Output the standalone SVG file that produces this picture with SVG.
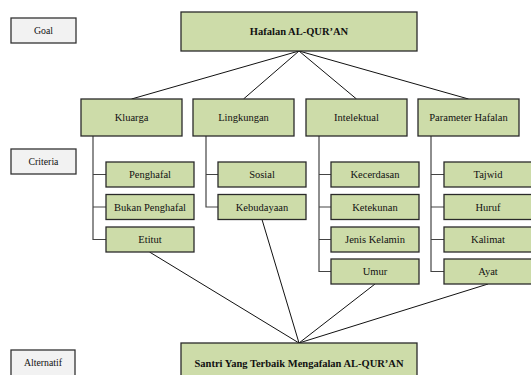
<svg xmlns="http://www.w3.org/2000/svg" width="531" height="375" viewBox="0 0 531 375">
<style>
.lbl{fill:#f2f2f2;stroke:#333;stroke-width:1.3}
.n{fill:#cddca9;stroke:#2a2a2a;stroke-width:1.3}
text{font-family:"Liberation Serif","Times New Roman",serif;font-size:10.5px;fill:#111;text-anchor:middle}
.b{font-weight:bold}
.s{font-size:9.8px}
.c line,.c path{stroke:#111;stroke-width:1;fill:none}
.t path{stroke:#444;stroke-width:1.2;fill:none}
</style>
<rect width="531" height="375" fill="#fff"/>
<g id="label-goal"><rect class="lbl" x="11" y="18" width="65" height="25"/><text class="s" x="43.5" y="34">Goal</text></g>
<g id="label-criteria"><rect class="lbl" x="11" y="149" width="65" height="25"/><text class="s" x="43.5" y="165">Criteria</text></g>
<g id="label-alternatif"><rect class="lbl" x="11" y="350" width="64" height="26"/><text class="s" x="43" y="366">Alternatif</text></g>
<g class="c" id="connectors">
<line x1="299" y1="51" x2="131.5" y2="99"/>
<line x1="299" y1="51" x2="243.5" y2="99"/>
<line x1="299" y1="51" x2="356.5" y2="99"/>
<line x1="299" y1="51" x2="468.5" y2="99"/>
<line x1="149.5" y1="252" x2="299" y2="343"/>
<line x1="262" y1="219.5" x2="299" y2="343"/>
<line x1="375" y1="284" x2="299" y2="343"/>
<line x1="488" y1="284" x2="299" y2="343"/>
</g>
<g class="t" id="tree-connectors">
<path d="M93 136V239.5H106M93 174.5H106M93 207H106"/>
<path d="M206 136V207H218M206 174.5H218"/>
<path d="M319 136V271.5H331M319 174.5H331M319 207H331M319 239.5H331"/>
<path d="M431 136V271.5H444M431 174.5H444M431 207H444M431 239.5H444"/>
</g>
<g id="goal"><rect class="n" x="181" y="12" width="236" height="39"/><text class="b" x="299" y="35">Hafalan AL-QUR’AN</text></g>
<g id="kluarga"><rect class="n" x="81" y="99" width="101" height="37"/><text x="131.5" y="121">Kluarga</text></g>
<g id="lingkungan"><rect class="n" x="193" y="99" width="101" height="37"/><text x="243.5" y="121">Lingkungan</text></g>
<g id="intelektual"><rect class="n" x="306" y="99" width="101" height="37"/><text x="356.5" y="121">Intelektual</text></g>
<g id="parameter-hafalan"><rect class="n" x="418" y="99" width="101" height="37"/><text x="468.5" y="121">Parameter Hafalan</text></g>
<g id="penghafal"><rect class="n" x="106" y="162" width="88" height="25"/><text x="150" y="178">Penghafal</text></g>
<g id="bukan-penghafal"><rect class="n" x="106" y="194.5" width="88" height="25"/><text x="150" y="210.5">Bukan Penghafal</text></g>
<g id="etitut"><rect class="n" x="106" y="227" width="88" height="25"/><text x="150" y="243">Etitut</text></g>
<g id="sosial"><rect class="n" x="218" y="162" width="88" height="25"/><text x="262" y="178">Sosial</text></g>
<g id="kebudayaan"><rect class="n" x="218" y="194.5" width="88" height="25"/><text x="262" y="210.5">Kebudayaan</text></g>
<g id="kecerdasan"><rect class="n" x="331" y="162" width="88" height="25"/><text x="375" y="178">Kecerdasan</text></g>
<g id="ketekunan"><rect class="n" x="331" y="194.5" width="88" height="25"/><text x="375" y="210.5">Ketekunan</text></g>
<g id="jenis-kelamin"><rect class="n" x="331" y="227" width="88" height="25"/><text x="375" y="243">Jenis Kelamin</text></g>
<g id="umur"><rect class="n" x="331" y="259" width="88" height="25"/><text x="375" y="275">Umur</text></g>
<g id="tajwid"><rect class="n" x="444" y="162" width="88" height="25"/><text x="488" y="178">Tajwid</text></g>
<g id="huruf"><rect class="n" x="444" y="194.5" width="88" height="25"/><text x="488" y="210.5">Huruf</text></g>
<g id="kalimat"><rect class="n" x="444" y="227" width="88" height="25"/><text x="488" y="243">Kalimat</text></g>
<g id="ayat"><rect class="n" x="444" y="259" width="88" height="25"/><text x="488" y="275">Ayat</text></g>
<g id="alternatif"><rect class="n" x="181" y="343" width="236" height="40"/><text class="b" x="299" y="367">Santri Yang Terbaik Mengafalan AL-QUR’AN</text></g>
</svg>
